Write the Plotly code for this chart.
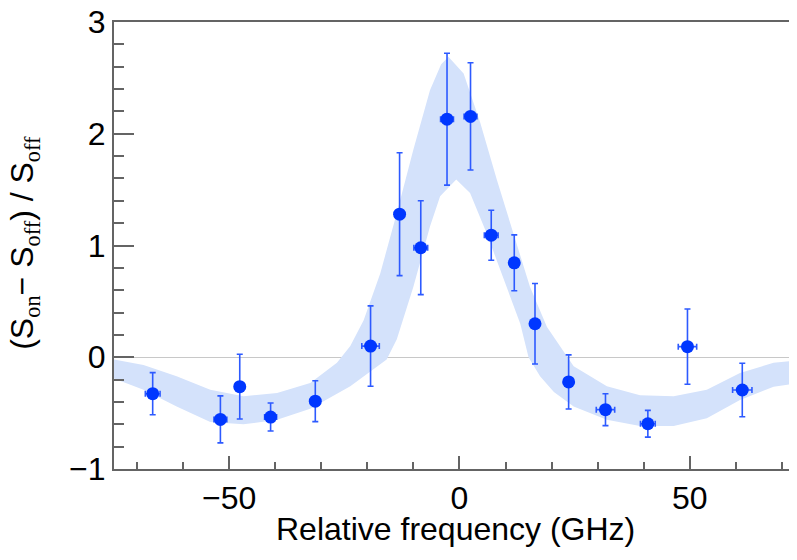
import plotly.graph_objects as go

# ---- data points ----
freq = [-66.6, -51.9, -47.7, -41.0, -31.3, -19.3, -13.0, -8.4, -2.7, 2.4,
        6.9, 11.9, 16.4, 23.7, 31.7, 40.9, 49.5, 61.4]
signal = [-0.326, -0.556, -0.263, -0.535, -0.393, 0.10, 1.28, 0.98, 2.13, 2.155,
          1.092, 0.845, 0.30, -0.221, -0.469, -0.595, 0.095, -0.293]
signal_err = [0.188, 0.21, 0.29, 0.125, 0.183, 0.36, 0.55, 0.42, 0.59, 0.48,
              0.224, 0.25, 0.36, 0.242, 0.143, 0.12, 0.337, 0.239]
freq_err = [1.6, 1.4, 1.0, 1.3, 1.0, 1.9, 0.5, 1.5, 1.4, 1.4,
            1.5, 1.0, 0.5, 1.0, 2.0, 1.6, 2.0, 2.1]

# ---- model band (upper and lower edges) ----
band_up_x = [-75, -68.6, -61.4, -54.1, -46.9, -39.6, -32.4, -26.6, -23.7, -20.8,
             -17.2, -13.6, -10.0, -6.4, -4.0, -2.4, 0.9, 4.5, 8.1, 11.7,
             15.3, 19.0, 21.9, 24.8, 32.0, 39.2, 46.5, 53.7, 60.9, 68.2, 73.3]
band_up_y = [-0.02, -0.07, -0.17, -0.29, -0.35, -0.32, -0.23, -0.05, 0.10, 0.33,
             0.75, 1.29, 1.86, 2.39, 2.62, 2.69, 2.54, 2.10, 1.59, 1.11,
             0.63, 0.27, 0.10, -0.08, -0.26, -0.34, -0.35, -0.29, -0.14, -0.05, -0.03]
band_lo_x = [-75, -68.6, -61.4, -54.1, -46.9, -39.6, -32.4, -23.7, -15.8, -13.6,
             -10.0, -6.4, -4.2, -0.7, 2.3, 5.9, 9.6, 13.2, 15.0, 17.5,
             20.5, 24.8, 32.0, 39.2, 46.5, 53.7, 60.9, 68.2, 73.3]
band_lo_y = [-0.19, -0.29, -0.44, -0.58, -0.60, -0.56, -0.46, -0.26, -0.02, 0.16,
             0.63, 1.17, 1.44, 1.59, 1.47, 1.11, 0.70, 0.30, 0.0, -0.17,
             -0.31, -0.44, -0.56, -0.615, -0.615, -0.546, -0.382, -0.263, -0.233]

x_ticks = [-50, 0, 50]
x_ticklabels = ["\u221250", "0", "50"]
y_ticks = [-1, 0, 1, 2, 3]
y_ticklabels = ["\u22121", "0", "1", "2", "3"]

FONT = "Liberation Sans, Arial, Helvetica, sans-serif"
SERIF = "Liberation Serif, Times New Roman, serif"

fig = go.Figure()

fig.add_trace(go.Scatter(
    x=band_up_x + band_lo_x[::-1],
    y=band_up_y + band_lo_y[::-1],
    fill="toself", fillcolor="rgb(212,226,251)",
    line=dict(width=0, color="rgba(0,0,0,0)"),
    mode="lines", hoverinfo="skip", showlegend=False,
))

fig.add_trace(go.Scatter(
    x=freq, y=signal, mode="markers",
    marker=dict(size=13, color="rgb(0,55,255)"),
    error_y=dict(type="data", array=signal_err, color="rgb(45,90,255)", thickness=1.6, width=3),
    error_x=dict(type="data", array=freq_err, color="rgb(45,90,255)", thickness=1.6, width=3),
    showlegend=False,
))

ax_color = "rgb(100,100,100)"
fig.update_xaxes(
    range=[-75, 73.28], tickvals=x_ticks, ticktext=x_ticklabels,
    ticks="inside", ticklen=13, tickwidth=1.5, tickcolor=ax_color,
    minor=dict(dtick=10, tick0=0, ticks="inside", ticklen=7, tickwidth=1.5, tickcolor=ax_color),
    showline=True, linecolor=ax_color, linewidth=2, mirror=True,
    showgrid=False, zeroline=False, automargin=False, ticklabeloverflow="allow",
    tickfont=dict(family=FONT, size=32, color="black"),
)
fig.update_yaxes(
    range=[-1, 3], tickvals=y_ticks, ticktext=y_ticklabels,
    ticks="inside", ticklen=20, tickwidth=1.5, tickcolor=ax_color,
    minor=dict(dtick=0.2, tick0=0, ticks="inside", ticklen=10, tickwidth=1.5, tickcolor=ax_color),
    showline=True, linecolor=ax_color, linewidth=2, mirror=False,
    showgrid=False, zeroline=True, zerolinecolor="rgb(200,200,200)", zerolinewidth=1,
    automargin=False, ticklabeloverflow="allow",
    tickfont=dict(family=FONT, size=32, color="black"),
)

sub = lambda t: f"<sub><span style='font-family:{SERIF}'>{t}</span></sub>"
ytitle = f"(S{sub('on')}\u2212 S{sub('off')}) / S{sub('off')}"

# the page body adds an 8 px offset, compensated in the margins
fig.update_layout(
    width=797, height=544,
    margin=dict(l=106, r=8, t=14, b=83, autoexpand=False),
    plot_bgcolor="white", paper_bgcolor="white",
    font=dict(family=FONT, color="black"),
    annotations=[
        dict(text="Relative frequency (GHz)", xref="paper", yref="paper",
             x=0.5, y=-0.135, xanchor="center", yanchor="middle", showarrow=False,
             font=dict(family=FONT, size=32, color="black")),
        dict(text=ytitle, xref="paper", yref="paper", textangle=-90,
             x=0, y=0.506, xanchor="center", yanchor="middle", showarrow=False,
             xshift=-89, font=dict(family=FONT, size=32, color="black")),
    ],
)

fig.write_html("out.html")
